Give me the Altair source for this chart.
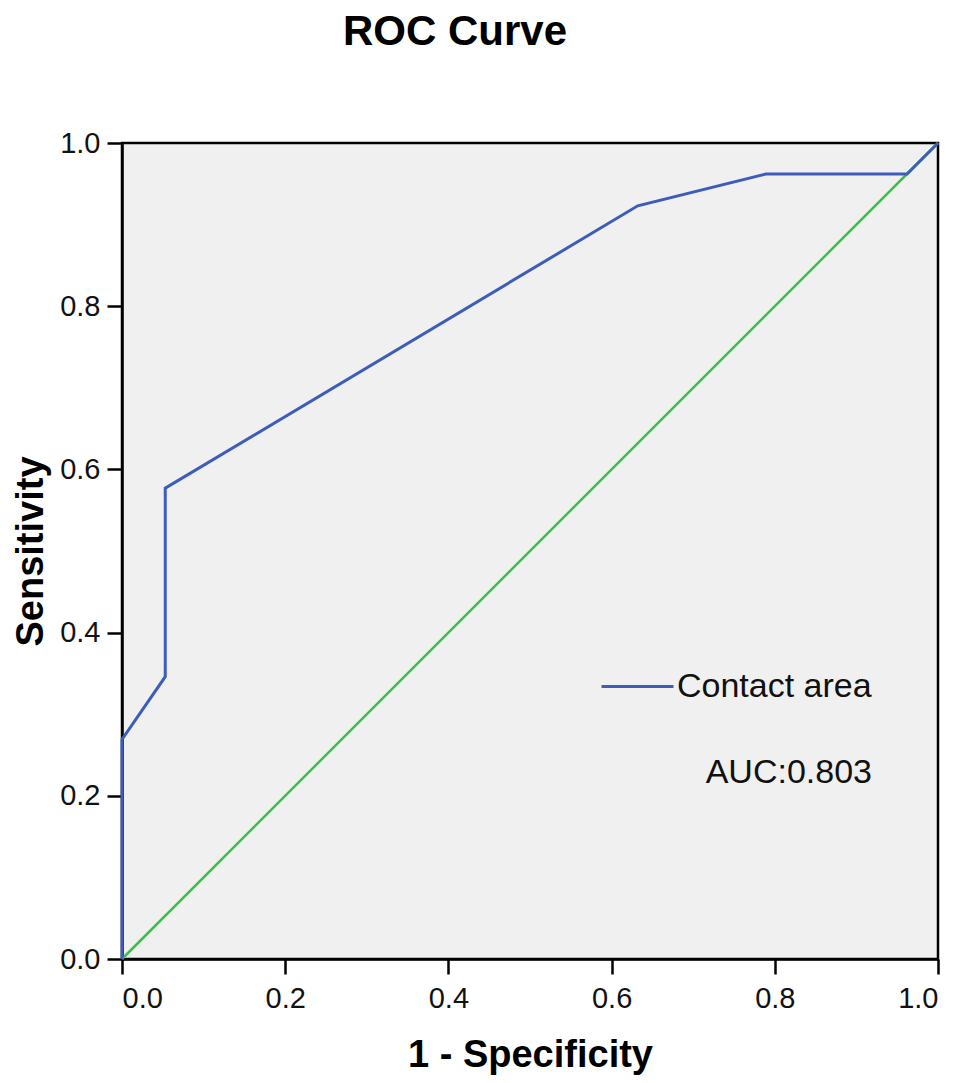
import altair as alt
import pandas as pd

# ROC curve points
fpr = [0.0, 0.0, 0.053, 0.053, 0.632, 0.789, 0.962, 1.0]
tpr = [0.0, 0.269, 0.346, 0.577, 0.923, 0.962, 0.962, 1.0]
series_name = "Contact area"
auc_text = "AUC:0.803"

ref_x = [0.0, 1.0]
ref_y = [0.0, 1.0]

tick_vals = [0.0, 0.2, 0.4, 0.6, 0.8, 1.0]

curve = pd.DataFrame({"x": fpr, "y": tpr, "order": list(range(len(fpr))), "series": series_name})
ref = pd.DataFrame({"x": ref_x, "y": ref_y, "order": [0, 1]})

FONT = "Liberation Sans"

xscale = alt.Scale(domain=[0, 1], nice=False)
yscale = alt.Scale(domain=[0, 1], nice=False)

xaxis = alt.Axis(values=tick_vals, format=".1f", title="1 - Specificity", grid=False,
                 domainColor="black", domainWidth=2.5, tickColor="black", tickWidth=2.5,
                 tickSize=15, labelFontSize=29, labelFont=FONT, labelColor="#111",
                 labelPadding=10, titleFont=FONT, titleFontSize=38, titleFontWeight="bold",
                 titleColor="black", titlePadding=23)
yaxis = alt.Axis(values=tick_vals, format=".1f", title="Sensitivity", grid=False,
                 domainColor="black", domainWidth=2.5, tickColor="black", tickWidth=2.5,
                 tickSize=15, labelFontSize=29, labelFont=FONT, labelColor="#111",
                 labelPadding=7, titleFont=FONT, titleFontSize=38, titleFontWeight="bold",
                 titleColor="black", titlePadding=9)

ref_line = alt.Chart(ref).mark_line(color="#3cbf4a", strokeWidth=2.5).encode(
    x=alt.X("x:Q", scale=xscale, axis=xaxis),
    y=alt.Y("y:Q", scale=yscale, axis=yaxis),
    order="order:Q",
)

roc_line = alt.Chart(curve).mark_line(strokeWidth=3).encode(
    x=alt.X("x:Q", scale=xscale, axis=xaxis),
    y=alt.Y("y:Q", scale=yscale, axis=yaxis),
    order="order:Q",
    color=alt.Color("series:N", scale=alt.Scale(range=["#3d5cbc"]),
                    legend=alt.Legend(
                        title=auc_text, titleOrient="bottom", titleAnchor="end",
                        titleFont=FONT, titleFontSize=34, titleFontWeight="normal",
                        titleColor="#111", titlePadding=52, titleLimit=400,
                        labelFont=FONT, labelFontSize=34, labelColor="#111",
                        labelLimit=400,
                        labelOffset=2, symbolType="stroke", symbolSize=5184,
                        symbolStrokeWidth=3, padding=0,
                        orient="none", legendX=478, legendY=506)),
)

chart = alt.layer(ref_line, roc_line).properties(
    width=816, height=816,
    autosize=alt.AutoSizeParams(type="none"),
    padding={"left": 114, "top": 135, "right": 14, "bottom": 116},
    background="white",
    title=alt.TitleParams("ROC Curve", font=FONT, fontSize=42, fontWeight="bold",
                          color="black", anchor="middle", dx=-75, offset=75),
).configure_view(
    fill="#f0f0f0", stroke="black", strokeWidth=2.5
)

chart.save("out.html", embed_options={"renderer": "svg", "actions": False})
